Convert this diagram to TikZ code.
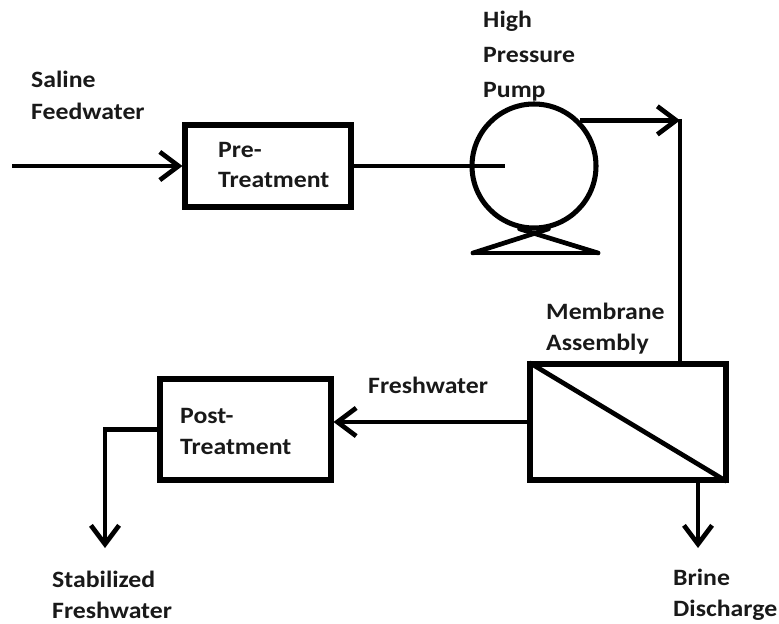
\documentclass[tikz,border=0pt]{standalone}
\usepackage{fontspec}
\setmainfont{Carlito}[FakeStretch=1.1]
\usetikzlibrary{arrows.meta}
\newcommand\stk[1]{\begin{tabular}[t]{@{}l@{}}#1\end{tabular}}
\begin{document}
\begin{tikzpicture}[x=0.3mm,y=-0.3mm,
  flow/.style={line width=4pt, -{Straight Barb[length=16pt,width=24pt]}},
  pipe/.style={line width=4pt},
  box/.style={draw, line width=4.3pt, rectangle, inner sep=0pt},
  lbl/.style={anchor=base west, inner sep=0pt, text=black!90, font=\fontsize{20}{27}\selectfont\bfseries}]
\useasboundingbox (0,0) rectangle (779,624);

% equipment
\node[box, minimum width=49.8mm, minimum height=24.6mm] (pre) at (268,166) {};
\node[box, minimum width=51.3mm, minimum height=30.3mm] (post) at (245.5,429.5) {};
\node[box, minimum width=58.8mm, minimum height=34.8mm] (mem) at (628,422) {};
\node[draw, circle, line width=4.3pt, minimum size=37.2mm, inner sep=0pt] (pump) at (534,166) {};

% coordinates
\coordinate (feedin) at (12,166);
\coordinate (pumpin) at (505,166);
\coordinate (junc) at (680,119);
\coordinate (bl) at (473,253);
\coordinate (br) at (598,253);
\coordinate (stabtip) at (105,548);
\coordinate (brinetip) at (698,548);

% pump base
\draw[pipe, line cap=round] (bl) -- (pump.-77);
\draw[pipe, line cap=round] (br) -- (pump.-103);
\draw[pipe, line cap=round] (bl) -- (br);

% membrane diagonal
\draw[line width=4pt, shorten <=2pt, shorten >=2pt] (mem.north west) -- (mem.south east);

% connectors
\draw[flow] (feedin) -- (pre.west);
\draw[pipe] (pre.east) -- (pumpin);
\draw[flow] (pump.45) -- (pump.45 -| junc);
\draw[pipe] (junc) -- (junc |- mem.north);
\draw[flow] (mem.west) -- (mem.west -| post.east);
\draw[flow] (post.west) -| (stabtip);
\draw[flow] (mem.south -| brinetip) -- (brinetip);

% labels
\node[lbl] (tsaline) at (31,88) {\stk{Saline\\Feedwater}};
\node[lbl, font=\fontsize{20}{29.5}\selectfont\bfseries] (tpump) at (483,28) {\stk{High\\Pressure\\Pump}};
\node[lbl, font=\fontsize{20}{26}\selectfont\bfseries] (tpre) at (218,157) {\stk{Pre-\\Treatment}};
\node[lbl] (tpost) at (180,423) {\stk{Post-\\Treatment}};
\node[lbl] (tmem) at (546,319) {\stk{Membrane\\Assembly}};
\node[lbl] (tfresh) at (368,393) {Freshwater};
\node[lbl] (tstab) at (52,587) {\stk{Stabilized\\Freshwater}};
\node[lbl] (tbrine) at (673,585) {\stk{Brine\\Discharge}};
\end{tikzpicture}
\end{document}
